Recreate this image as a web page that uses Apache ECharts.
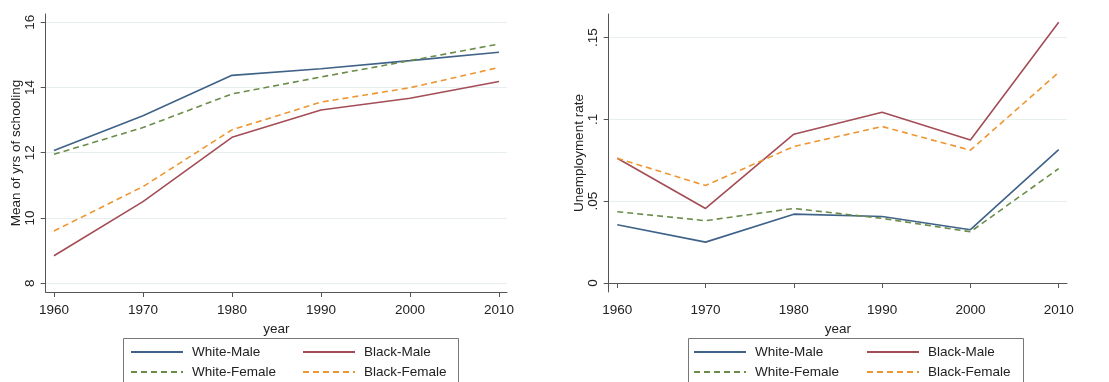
<!DOCTYPE html>
<html>
<head>
<meta charset="utf-8">
<script src="https://cdn.jsdelivr.net/npm/echarts@6/dist/echarts.min.js"></script>
<style>
  html, body { margin: 0; padding: 0; background: #fff; }
  #chart { width: 1109px; height: 382px; }
</style>
</head>
<body>
<div id="chart"></div>
<script>
// Census years
const years = [1960, 1970, 1980, 1990, 2000, 2010];
const groups = ['White-Male', 'Black-Male', 'White-Female', 'Black-Female'];

// Mean years of schooling by group
const schoolWhiteMale   = [12.07, 13.13, 14.37, 14.57, 14.82, 15.08];
const schoolBlackMale   = [8.84, 10.50, 12.47, 13.31, 13.67, 14.18];
const schoolWhiteFemale = [11.95, 12.77, 13.80, 14.32, 14.82, 15.33];
const schoolBlackFemale = [9.60, 10.96, 12.70, 13.55, 13.99, 14.61];

// Unemployment rate by group
const unempWhiteMale   = [0.0356, 0.0250, 0.0421, 0.0407, 0.0326, 0.0816];
const unempBlackMale   = [0.0763, 0.0456, 0.0910, 0.1044, 0.0875, 0.1594];
const unempWhiteFemale = [0.0436, 0.0381, 0.0456, 0.0395, 0.0313, 0.0700];
const unempBlackFemale = [0.0763, 0.0596, 0.0835, 0.0957, 0.0812, 0.1288];

// Tick values
const schoolTicks = [8, 10, 12, 14, 16];
const unempTicks = [0, 0.05, 0.1, 0.15];

const colors = {
  'White-Male': '#3f6288',
  'Black-Male': '#a34d56',
  'White-Female': '#6b8c49',
  'Black-Female': '#ee9631'
};
const dashed = { 'White-Female': true, 'Black-Female': true };

const font = 'Liberation Sans, Arial, sans-serif';
const axisColor = '#555';
const labelColor = '#222';
const gridColor = '#e7efef';

function pairs(vals) { return years.map((y, i) => [y, vals[i]]); }

function lineSeries(name, vals, idx) {
  return {
    name: name,
    type: 'line',
    xAxisIndex: idx,
    yAxisIndex: idx,
    data: pairs(vals),
    symbol: 'none',
    smooth: false,
    lineStyle: {
      color: colors[name],
      width: 1.6,
      type: dashed[name] ? [6, 4] : 'solid'
    },
    itemStyle: { color: colors[name] },
    emphasis: { disabled: true },
    animation: false
  };
}

function xAxis(idx, min, max) {
  return {
    type: 'value',
    gridIndex: idx,
    min: min,
    max: max,
    name: 'year',
    nameLocation: 'middle',
    nameGap: 25,
    nameTextStyle: { fontFamily: font, fontSize: 13.5, color: labelColor },
    axisLine: { show: true, lineStyle: { color: axisColor, width: 1 } },
    axisTick: { show: true, length: 5, customValues: years, lineStyle: { color: axisColor } },
    axisLabel: {
      customValues: years, margin: 11,
      fontFamily: font, fontSize: 13.5, color: labelColor,
      formatter: v => String(v)
    },
    splitLine: { show: false }
  };
}

function yAxis(idx, min, max, ticks, name, fmt) {
  return {
    type: 'value',
    gridIndex: idx,
    min: min,
    max: max,
    name: name,
    nameLocation: 'middle',
    nameRotate: 90,
    nameGap: 21,
    nameTextStyle: { fontFamily: font, fontSize: 13.5, color: labelColor },
    axisLine: { show: true, lineStyle: { color: axisColor, width: 1 } },
    axisTick: { show: true, length: 5, customValues: ticks, lineStyle: { color: axisColor } },
    axisLabel: {
      customValues: ticks, rotate: 90, margin: 8,
      fontFamily: font, fontSize: 13.5, color: labelColor,
      formatter: fmt
    },
    splitLine: { show: true, customValues: ticks, lineStyle: { color: gridColor, width: 1 } }
  };
}

function stripZero(v) {
  if (v === 0) return '0';
  return String(+v.toFixed(2)).replace(/^0\./, '.');
}

function legendCol(left, names) {
  return {
    orient: 'vertical',
    left: left,
    top: 345,
    padding: 0,
    itemGap: 6,
    itemWidth: 52,
    itemHeight: 14,
    data: names,
    selectedMode: false,
    itemStyle: { opacity: 0 },
    textStyle: { fontFamily: font, fontSize: 13.5, color: labelColor, padding: [0, 0, 0, 4] }
  };
}

const option = {
  backgroundColor: '#fff',
  animation: false,
  grid: [
    { left: 45.7, right: 602, top: 14, bottom: 90, containLabel: false },
    { left: 608.7, right: 42, top: 14, bottom: 90, containLabel: false }
  ],
  xAxis: [
    xAxis(0, 1959.07, 2010.9),
    xAxis(1, 1959.03, 2010.94)
  ],
  yAxis: [
    yAxis(0, 7.73, 16.25, schoolTicks, 'Mean of yrs of schooling', v => String(v)),
    yAxis(1, -0.0055, 0.1645, unempTicks, 'Unemployment rate', stripZero)
  ],
  legend: [
    legendCol(130, ['White-Male', 'White-Female']),
    legendCol(302, ['Black-Male', 'Black-Female']),
    legendCol(693, ['White-Male', 'White-Female']),
    legendCol(866, ['Black-Male', 'Black-Female'])
  ],
  graphic: [
    { type: 'rect', shape: { x: 123.5, y: 338.5, width: 335, height: 60 },
      style: { fill: 'none', stroke: '#777', lineWidth: 1 }, silent: true },
    { type: 'rect', shape: { x: 688.5, y: 338.5, width: 335, height: 60 },
      style: { fill: 'none', stroke: '#777', lineWidth: 1 }, silent: true }
  ],
  series: [
    lineSeries('White-Male', schoolWhiteMale, 0),
    lineSeries('Black-Male', schoolBlackMale, 0),
    lineSeries('White-Female', schoolWhiteFemale, 0),
    lineSeries('Black-Female', schoolBlackFemale, 0),
    lineSeries('White-Male', unempWhiteMale, 1),
    lineSeries('Black-Male', unempBlackMale, 1),
    lineSeries('White-Female', unempWhiteFemale, 1),
    lineSeries('Black-Female', unempBlackFemale, 1)
  ]
};

const chart = echarts.init(document.getElementById('chart'), null, { renderer: 'canvas' });
chart.setOption(option);
</script>
</body>
</html>
